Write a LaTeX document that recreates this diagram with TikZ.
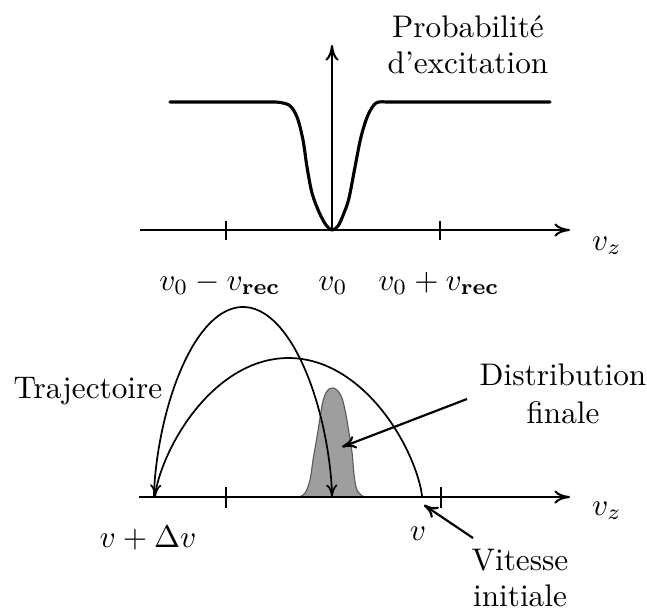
\documentclass[tikz,border=0pt]{standalone}
\usetikzlibrary{arrows.meta}
\begin{document}
\begin{tikzpicture}[x=0.32pt,y=-0.32pt,
  axis/.style={line width=0.65pt,-{Computer Modern Rightarrow[length=5pt,width=4.2pt]}},
  tickmark/.style={line width=0.65pt},
  curve/.style={line width=1pt, line join=round, line cap=round},
  traj/.style={line width=0.55pt},
  trajtip/.style={-{Computer Modern Rightarrow[length=4pt,width=3.6pt]}},
  lbl/.style={anchor=base, inner sep=0pt},
  pointer/.style={line width=0.7pt, -{Computer Modern Rightarrow[length=4.5pt,width=4.2pt]}},
  distfill/.style={fill=black!38, draw=black!65, line width=0.35pt}]
\useasboundingbox (0,0) rectangle (647,609);

% ---------- top plot ----------
\coordinate (o1) at (332,230);
\coordinate (x1s) at (140,230);
\coordinate (x1e) at (570,230);
\coordinate (y1e) at (332,45);
\draw[axis] (x1s) -- (x1e);
\draw[axis] (o1) -- (y1e);
\draw[tickmark] (226,221) -- (226,240);
\draw[tickmark] (440,221) -- (440,240);
\draw[curve] (170,102) -- plot[smooth, tension=0.55] coordinates {(276,102) (289,105) (297,117) (303,140) (307,167) (312,193) (319,212) (326,225) (332,230) (338,226) (344,213) (349,198) (355,167) (361,137) (368,115) (376,103) (386,102)} -- (550,102);

\node[lbl] (prob) at (468,37) {Probabilit\'e};
\node[lbl] (exc) at (468,73) {d'excitation};
\node[lbl] (vz1) at (607,250) {$v_z$};
\node[lbl] (lm) at (220,290) {$v_0-v_{\mathbf{rec}}$};
\node[lbl] (l0) at (333,290) {$v_0$};
\node[lbl] (lp) at (439,290) {$v_0+v_{\mathbf{rec}}$};

% ---------- bottom plot ----------
\filldraw[distfill] plot[smooth, tension=0.6] coordinates {(299,497) (305,493) (310,480) (313,460) (317,437) (320,418) (323,401) (327,391) (332,388) (337,390) (342,398) (346,415) (349,433) (352,452) (354,474) (357,490) (364,497)} -- cycle;

\coordinate (x2s) at (139,497);
\coordinate (x2e) at (570,497);
\draw[axis] (x2s) -- (x2e);
\draw[tickmark] (226,487) -- (226,508);
\draw[tickmark] (441,487) -- (441,508);

% wide trajectory: v -> v + Delta v
\draw[traj, trajtip] plot[domain=0:180, samples=120, variable=\t]
  ({288.5+133.5*cos(\t)}, {497-139*pow(abs(sin(\t))+0.0001,1.4)});
% tall trajectory: v + Delta v -> final
\draw[traj, trajtip] plot[domain=0:180, samples=120, variable=\t]
  ({243-89*cos(\t)}, {497-190*pow(abs(sin(\t))+0.0001,1.2)});

\node[lbl] (traj) at (88,398) {Trajectoire};
\node[lbl] (dist) at (563,385) {Distribution};
\node[lbl] (fin) at (563,423) {finale};
\node[lbl] (vz2) at (607,515) {$v_z$};
\node[lbl] (vdv) at (148,547) {$v+\Delta v$};
\node[lbl] (vv) at (418,540) {$v$};
\node[lbl] (vit) at (520,570) {Vitesse};
\node[lbl] (ini) at (520,606) {initiale};

\coordinate (dtail) at (467,399);
\coordinate (dtip) at (342,447);
\draw[pointer] (dtail) -- (dtip);
\coordinate (vtail) at (473,538);
\coordinate (vtip) at (424,505);
\draw[pointer] (vtail) -- (vtip);
\end{tikzpicture}
\end{document}
